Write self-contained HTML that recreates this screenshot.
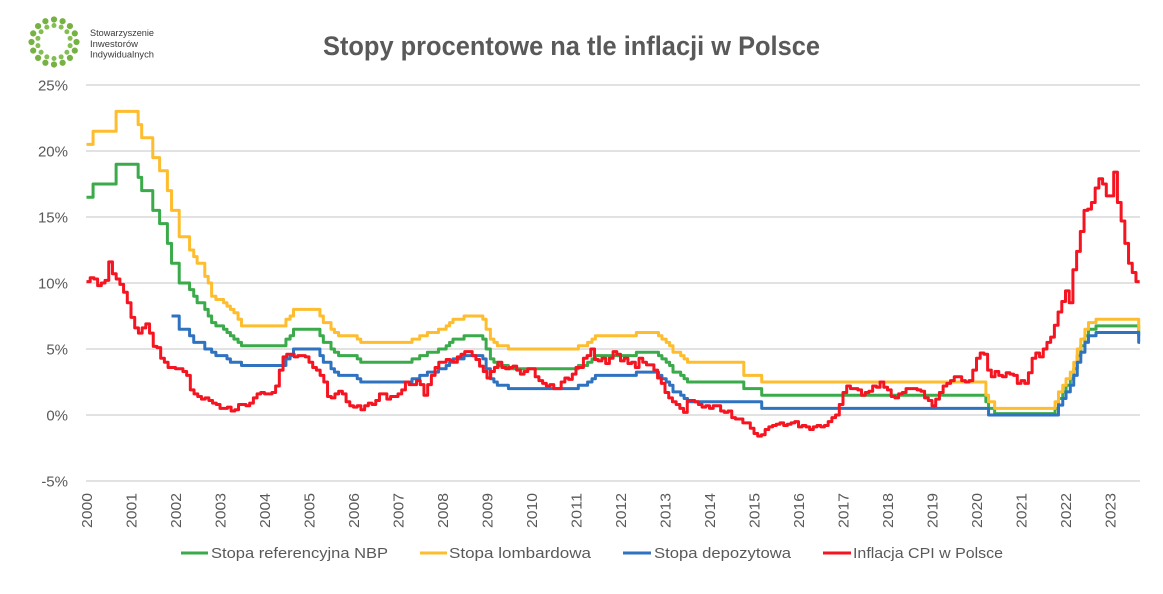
<!DOCTYPE html>
<html><head><meta charset="utf-8">
<style>
html,body{margin:0;padding:0;background:#fff;}
svg{display:block;}
text{font-family:"Liberation Sans",Arial,sans-serif;}
</style></head>
<body>
<svg id="c" width="1163" height="594" viewBox="0 0 1163 594" xmlns="http://www.w3.org/2000/svg">
<rect width="1163" height="594" fill="#fff"/>
<g id="logo"></g>
<text x="90" y="36" font-size="9" fill="#3a3a3a" textLength="64" lengthAdjust="spacingAndGlyphs">Stowarzyszenie</text>
<text x="90" y="47" font-size="9" fill="#3a3a3a" textLength="48" lengthAdjust="spacingAndGlyphs">Inwestorów</text>
<text x="90" y="57.5" font-size="9" fill="#3a3a3a" textLength="64" lengthAdjust="spacingAndGlyphs">Indywidualnych</text>
<text x="323" y="55" font-size="27" font-weight="bold" fill="#595959" textLength="497" lengthAdjust="spacingAndGlyphs">Stopy procentowe na tle inflacji w Polsce</text>
<g id="grid" stroke="#d9d9d9" stroke-width="1.4"></g>
<g id="ylab" font-size="15" fill="#595959" text-anchor="end"></g>
<g id="xlab" font-size="15" fill="#595959"></g>
<g id="series" fill="none" stroke-width="3" stroke-linejoin="round"></g>
<g font-size="15" fill="#595959">
<line x1="181" y1="553" x2="208" y2="553" stroke="#3aaa4a" stroke-width="3"/>
<text x="211" y="558" textLength="177" lengthAdjust="spacingAndGlyphs">Stopa referencyjna NBP</text>
<line x1="420" y1="553" x2="447" y2="553" stroke="#fdbd2e" stroke-width="3"/>
<text x="449" y="558" textLength="142" lengthAdjust="spacingAndGlyphs">Stopa lombardowa</text>
<line x1="623" y1="553" x2="651" y2="553" stroke="#2f73c0" stroke-width="3"/>
<text x="654" y="558" textLength="137" lengthAdjust="spacingAndGlyphs">Stopa depozytowa</text>
<line x1="823" y1="553" x2="851" y2="553" stroke="#f51420" stroke-width="3"/>
<text x="853" y="558" textLength="150" lengthAdjust="spacingAndGlyphs">Inflacja CPI w Polsce</text>
</g>
</svg>
<script>
(function(){
var NS="http://www.w3.org/2000/svg";
function el(tag,attrs,parent,txt){var e=document.createElementNS(NS,tag);for(var k in attrs)e.setAttribute(k,attrs[k]);if(txt!==undefined)e.textContent=txt;parent.appendChild(e);return e;}
var X0=86.5,SX=44.5,Y0=415,SY=13.2;
function X(t){return X0+t*SX;}
function Y(v){return Y0-v*SY;}
function T(d){var p=d.split('-').map(Number);return (Date.UTC(p[0],p[1]-1,p[2])-Date.UTC(2000,0,1))/(365.25*86400000);}
var grid=document.getElementById('grid'),ylab=document.getElementById('ylab'),xlab=document.getElementById('xlab');
var labs=['25%','20%','15%','10%','5%','0%','-5%'];
for(var i=0;i<7;i++){var y=85+i*66;el('line',{x1:86,y1:y,x2:1140,y2:y},grid);el('text',{x:68,y:y+5.4},ylab,labs[i]);}
for(var yr=0;yr<=23;yr++){var x=X(yr)+5.5;el('text',{x:0,y:0,transform:'translate('+x.toFixed(1)+',493) rotate(-90)','text-anchor':'end',textLength:35,lengthAdjust:'spacingAndGlyphs'},xlab,String(2000+yr));}
var logo=document.getElementById('logo');
var cx=54,cy=42;
for(var k=0;k<16;k++){var a=k/16*2*Math.PI;el('circle',{cx:cx+22.5*Math.cos(a),cy:cy+22.5*Math.sin(a),r:3.1,fill:'#76b243'},logo);}
for(var k=0;k<14;k++){var a=(k+0.5)/14*2*Math.PI;el('circle',{cx:cx+16.5*Math.cos(a),cy:cy+16.5*Math.sin(a),r:2.5,fill:'#84bd52'},logo);}
var ref=[['2000-01-01',16.5],['2000-02-24',17.5],['2000-08-31',19],['2001-02-28',18],['2001-03-29',17],['2001-06-28',15.5],['2001-08-23',14.5],['2001-10-26',13],['2001-11-29',11.5],['2002-01-31',10],['2002-04-26',9.5],['2002-05-30',9],['2002-06-27',8.5],['2002-08-29',8],['2002-09-26',7.5],['2002-10-24',7],['2002-11-28',6.75],['2003-01-30',6.5],['2003-02-27',6.25],['2003-03-27',6],['2003-04-25',5.75],['2003-05-29',5.5],['2003-06-26',5.25],['2004-06-25',5.75],['2004-07-29',6],['2004-08-26',6.5],['2005-03-31',6],['2005-04-28',5.5],['2005-06-30',5],['2005-07-28',4.75],['2005-08-31',4.5],['2006-01-31',4.25],['2006-03-01',4],['2007-04-26',4.25],['2007-06-28',4.5],['2007-08-30',4.75],['2007-11-29',5],['2008-01-31',5.25],['2008-02-28',5.5],['2008-03-27',5.75],['2008-06-26',6],['2008-11-27',5.75],['2008-12-24',5],['2009-01-28',4.25],['2009-02-26',4],['2009-03-26',3.75],['2009-06-25',3.5],['2011-01-20',3.75],['2011-04-06',4],['2011-05-12',4.25],['2011-06-09',4.5],['2012-05-10',4.75],['2012-11-08',4.5],['2012-12-06',4.25],['2013-01-10',4],['2013-02-07',3.75],['2013-03-07',3.25],['2013-05-09',3],['2013-06-06',2.75],['2013-07-04',2.5],['2014-10-09',2],['2015-03-05',1.5],['2020-03-18',1],['2020-04-09',0.5],['2020-05-29',0.1],['2021-10-07',0.5],['2021-11-04',1.25],['2021-12-09',1.75],['2022-01-05',2.25],['2022-02-09',2.75],['2022-03-09',3.5],['2022-04-07',4.5],['2022-05-06',5.25],['2022-06-09',6],['2022-07-08',6.5],['2022-09-08',6.75]];
var refT=ref.map(function(r){return [T(r[0]),r[1]];});
var TDROP=23.645,TEND=23.675;
refT.push([TDROP,6.0]);
var lombEarly=[['2000-01-01',20.5],['2000-02-24',21.5],['2000-08-31',23],['2001-02-28',22],['2001-03-29',21],['2001-06-28',19.5],['2001-08-23',18.5],['2001-10-26',17],['2001-11-29',15.5],['2002-01-31',13.5],['2002-04-26',12.5],['2002-05-30',12],['2002-06-27',11.5],['2002-08-29',10.5],['2002-09-26',10],['2002-10-24',9],['2002-11-28',8.75],['2003-01-30',8.5],['2003-02-27',8.25],['2003-03-27',8],['2003-04-25',7.75],['2003-05-29',7.25],['2003-06-26',6.75]].map(function(r){return [T(r[0]),r[1]];});
var depEarly=[['2001-11-29',7.5],['2002-01-31',6.5],['2002-04-26',6],['2002-05-30',5.5],['2002-08-29',5],['2002-10-24',4.75],['2002-11-28',4.5],['2003-02-27',4.25],['2003-03-27',4],['2003-06-26',3.75]].map(function(r){return [T(r[0]),r[1]];});
var t2014=T('2014-10-09'),t2020=T('2020-03-18');
var lomb=lombEarly.slice(),dep=depEarly.slice();
refT.forEach(function(r){
  var t=r[0],v=r[1];if(t<4)return;
  var l,d;
  if(t<t2014){l=v+1.5;d=v-1.5;}
  else if(t<t2020){l=v+1.0;d=v-1.0;}
  else{l=(v<=0.1)?0.5:v+0.5;d=Math.max(0,v-0.5);}
  lomb.push([t,l]);dep.push([t,d]);
});
function stepPath(list,tEnd){
  var p='M'+X(list[0][0]).toFixed(2)+' '+Y(list[0][1]).toFixed(2);
  for(var i=1;i<list.length;i++){p+=' H'+X(list[i][0]).toFixed(2)+' V'+Y(list[i][1]).toFixed(2);}
  p+=' H'+X(tEnd).toFixed(2);return p;
}
var cpi=[
10.1,10.4,10.3,9.8,10.0,10.2,11.6,10.7,10.3,9.9,9.3,8.5,
7.4,6.6,6.2,6.6,6.9,6.2,5.2,5.1,4.3,4.0,3.6,3.6,
3.5,3.5,3.3,3.0,1.9,1.6,1.4,1.2,1.3,1.1,0.9,0.8,
0.5,0.5,0.6,0.3,0.4,0.8,0.8,0.7,0.9,1.3,1.6,1.7,
1.6,1.6,1.7,2.2,3.4,4.4,4.6,4.6,4.4,4.5,4.5,4.4,
4.0,3.6,3.4,3.0,2.5,1.4,1.3,1.6,1.8,1.6,1.0,0.7,
0.6,0.7,0.4,0.7,0.9,0.8,1.1,1.6,1.6,1.2,1.4,1.4,
1.6,1.9,2.5,2.3,2.3,2.6,2.3,1.5,2.3,3.0,3.6,4.0,
4.0,4.2,4.1,4.0,4.4,4.6,4.8,4.8,4.5,4.2,3.7,3.3,
2.8,3.3,3.6,4.0,3.6,3.5,3.6,3.7,3.4,3.1,3.3,3.5,
3.5,2.9,2.6,2.4,2.2,2.3,2.0,2.0,2.5,2.8,2.7,3.1,
3.6,3.6,4.3,4.5,5.0,4.2,4.1,4.3,3.9,4.3,4.8,4.6,
4.1,4.3,3.9,4.0,3.6,4.3,4.0,3.8,3.8,3.4,2.8,2.4,
1.7,1.3,1.0,0.8,0.5,0.2,1.1,1.1,1.0,0.8,0.6,0.7,
0.5,0.7,0.7,0.3,0.2,0.3,-0.2,-0.3,-0.3,-0.6,-0.6,-1.0,
-1.4,-1.6,-1.5,-1.1,-0.9,-0.8,-0.7,-0.6,-0.8,-0.7,-0.6,-0.5,
-0.9,-0.8,-0.9,-1.1,-0.9,-0.8,-0.9,-0.8,-0.5,-0.2,0.0,0.8,
1.7,2.2,2.0,2.0,1.9,1.5,1.7,1.8,2.2,2.1,2.5,2.1,
1.9,1.4,1.3,1.6,1.7,2.0,2.0,2.0,1.9,1.8,1.3,1.1,
0.7,1.2,1.7,2.2,2.4,2.6,2.9,2.9,2.6,2.5,2.6,3.4,
4.3,4.7,4.6,3.4,2.9,3.3,3.0,2.9,3.2,3.1,3.0,2.4,
2.6,2.4,3.2,4.3,4.7,4.4,5.0,5.5,5.9,6.8,7.8,8.6,
9.4,8.5,11.0,12.4,13.9,15.5,15.6,16.1,17.2,17.9,17.5,16.6,
16.6,18.4,16.1,14.7,13.0,11.5,10.8,10.1];
var cpiL=cpi.map(function(v,i){return [i/12,v];});
var g=document.getElementById('series');
el('path',{d:stepPath(refT,TEND),stroke:'#3aaa4a'},g);
el('path',{d:stepPath(lomb.concat([[TDROP,6.5]]),TEND),stroke:'#fdbd2e'},g);
el('path',{d:stepPath(dep.concat([[TDROP,5.5]]),TEND),stroke:'#2f73c0'},g);
el('path',{d:stepPath(cpiL,cpi.length/12),stroke:'#f51420'},g);
})();
</script>
</body></html>
